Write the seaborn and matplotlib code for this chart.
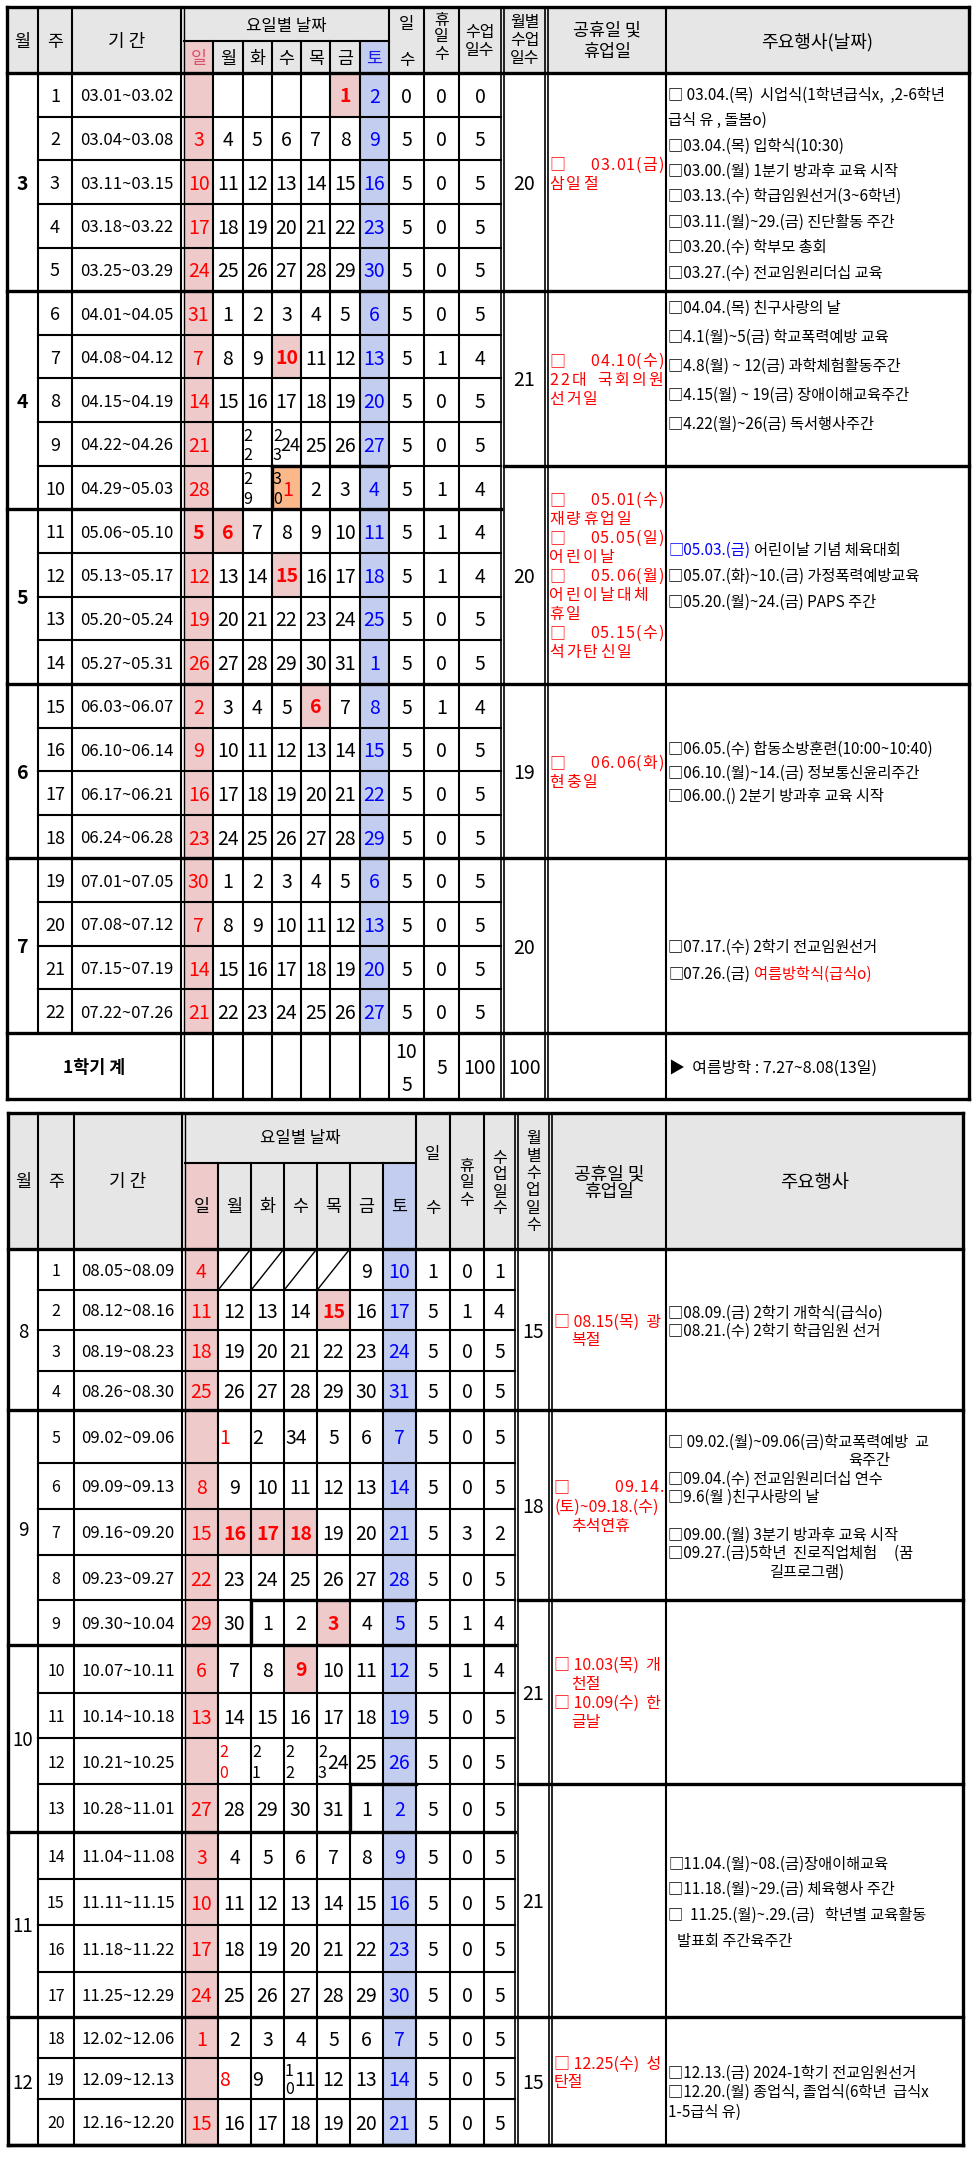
import matplotlib
matplotlib.use("Agg")
import matplotlib.pyplot as plt
from matplotlib.colors import ListedColormap
from matplotlib.font_manager import FontProperties
from matplotlib.patches import Rectangle
import numpy as np
import seaborn as sns

sns.set_theme(style="white")
FAM = ["Noto Sans CJK KR", "DejaVu Sans"]
plt.rcParams["font.family"] = FAM

# ====================== DATA ======================
weekdays = ["일", "월", "화", "수", "목", "금", "토"]

# ---------- semester 1 ----------
months1 = [3] * 5 + [4] * 5 + [5] * 4 + [6] * 4 + [7] * 4
weeks1 = list(range(1, 23))
periods1 = ["03.01~03.02", "03.04~03.08", "03.11~03.15", "03.18~03.22", "03.25~03.29",
            "04.01~04.05", "04.08~04.12", "04.15~04.19", "04.22~04.26", "04.29~05.03",
            "05.06~05.10", "05.13~05.17", "05.20~05.24", "05.27~05.31",
            "06.03~06.07", "06.10~06.14", "06.17~06.21", "06.24~06.28",
            "07.01~07.05", "07.08~07.12", "07.15~07.19", "07.22~07.26"]
dates1 = [
    ["", "", "", "", "", "1", "2"],
    ["3", "4", "5", "6", "7", "8", "9"],
    ["10", "11", "12", "13", "14", "15", "16"],
    ["17", "18", "19", "20", "21", "22", "23"],
    ["24", "25", "26", "27", "28", "29", "30"],
    ["31", "1", "2", "3", "4", "5", "6"],
    ["7", "8", "9", "10", "11", "12", "13"],
    ["14", "15", "16", "17", "18", "19", "20"],
    ["21", "", "2\n2", "2\n3|24", "25", "26", "27"],
    ["28", "", "2\n9", "3\n0|1", "2", "3", "4"],
    ["5", "6", "7", "8", "9", "10", "11"],
    ["12", "13", "14", "15", "16", "17", "18"],
    ["19", "20", "21", "22", "23", "24", "25"],
    ["26", "27", "28", "29", "30", "31", "1"],
    ["2", "3", "4", "5", "6", "7", "8"],
    ["9", "10", "11", "12", "13", "14", "15"],
    ["16", "17", "18", "19", "20", "21", "22"],
    ["23", "24", "25", "26", "27", "28", "29"],
    ["30", "1", "2", "3", "4", "5", "6"],
    ["7", "8", "9", "10", "11", "12", "13"],
    ["14", "15", "16", "17", "18", "19", "20"],
    ["21", "22", "23", "24", "25", "26", "27"],
]
holiday_cells1 = [(0, 5), (6, 3), (10, 0), (10, 1), (11, 3), (14, 4)]
orange_cells1 = [(9, 3)]
shifted_red1 = []
days1 = [0, 5, 5, 5, 5, 5, 5, 5, 5, 5, 5, 5, 5, 5, 5, 5, 5, 5, 5, 5, 5, 5]
off1 = [0, 0, 0, 0, 0, 0, 1, 0, 0, 1, 1, 1, 0, 0, 1, 0, 0, 0, 0, 0, 0, 0]
class1 = [0, 5, 5, 5, 5, 5, 4, 5, 5, 4, 4, 4, 5, 5, 4, 5, 5, 5, 5, 5, 5, 5]
rgroup1 = [0] * 5 + [1] * 4 + [2] * 5 + [3] * 4 + [4] * 4
monthly1 = [20, 21, 20, 19, 20]
total_label1 = "1학기 계"
total_days1 = ["10", "5"]
total_off1 = "5"
total_class1 = "100"
total_monthly1 = "100"
total_event1 = "▶  여름방학 : 7.27~8.08(13일)"

hol1 = [
    [("date", "03.01(금)"), ("track", "삼일절"), ("blank", "")],
    [("date", "04.10(수)"), ("justify", "22대 국회의원"), ("track", "선거일")],
    [("date", "05.01(수)"), ("track", "재량휴업일"), ("date", "05.05(일)"), ("track", "어린이날"),
     ("date", "05.06(월)"), ("track", "어린이날대체"), ("track", "휴일"),
     ("date", "05.15(수)"), ("track", "석가탄신일")],
    [("date", "06.06(화)"), ("track", "현충일")],
    [],
]

K, RED, BLUE = "#000000", "#ff0000", "#0000ff"
ev1 = [
    [(0, [("□ 03.04.(목)  시업식(1학년급식x,  ,2-6학년", K)]),
     (0, [("급식 유 , 돌봄o)", K)]),
     (0, [("□03.04.(목) 입학식(10:30)", K)]),
     (0, [("□03.00.(월) 1분기 방과후 교육 시작", K)]),
     (0, [("□03.13.(수) 학급임원선거(3~6학년)", K)]),
     (0, [("□03.11.(월)~29.(금) 진단활동 주간", K)]),
     (0, [("□03.20.(수) 학부모 총회", K)]),
     (0, [("□03.27.(수) 전교임원리더십 교육", K)])],
    [(0, [("□04.04.(목) 친구사랑의 날", K)]),
     (0, [("□4.1(월)~5(금) 학교폭력예방 교육", K)]),
     (0, [("□4.8(월) ~ 12(금) 과학체험활동주간", K)]),
     (0, [("□4.15(월) ~ 19(금) 장애이해교육주간", K)]),
     (0, [("□4.22(월)~26(금) 독서행사주간", K)]),
     (0, [])],
    [(0, [("□05.03.(금)", BLUE), (" 어린이날 기념 체육대회", K)]),
     (0, [("□05.07.(화)~10.(금) 가정폭력예방교육", K)]),
     (0, [("□05.20.(월)~24.(금) PAPS 주간", K)])],
    [(0, [("□06.05.(수) 합동소방훈련(10:00~10:40)", K)]),
     (0, [("□06.10.(월)~14.(금) 정보통신윤리주간", K)]),
     (0, [("□06.00.() 2분기 방과후 교육 시작", K)])],
    [(0, []),
     (0, [("□07.17.(수) 2학기 전교임원선거", K)]),
     (0, [("□07.26.(금)", K), (" 여름방학식(급식o)", RED)])],
]

# ---------- semester 2 ----------
months2 = [8] * 4 + [9] * 5 + [10] * 4 + [11] * 4 + [12] * 3
weeks2 = list(range(1, 21))
periods2 = ["08.05~08.09", "08.12~08.16", "08.19~08.23", "08.26~08.30",
            "09.02~09.06", "09.09~09.13", "09.16~09.20", "09.23~09.27", "09.30~10.04",
            "10.07~10.11", "10.14~10.18", "10.21~10.25", "10.28~11.01",
            "11.04~11.08", "11.11~11.15", "11.18~11.22", "11.25~12.29",
            "12.02~12.06", "12.09~12.13", "12.16~12.20"]
dates2 = [
    ["4", "/", "/", "/", "/", "9", "10"],
    ["11", "12", "13", "14", "15", "16", "17"],
    ["18", "19", "20", "21", "22", "23", "24"],
    ["25", "26", "27", "28", "29", "30", "31"],
    ["", "<1", "<2", "<34", "5", "6", "7"],
    ["8", "9", "10", "11", "12", "13", "14"],
    ["15", "16", "17", "18", "19", "20", "21"],
    ["22", "23", "24", "25", "26", "27", "28"],
    ["29", "30", "1", "2", "3", "4", "5"],
    ["6", "7", "8", "9", "10", "11", "12"],
    ["13", "14", "15", "16", "17", "18", "19"],
    ["", "2\n0", "2\n1", "2\n2", "2\n3|24", "25", "26"],
    ["27", "28", "29", "30", "31", "1", "2"],
    ["3", "4", "5", "6", "7", "8", "9"],
    ["10", "11", "12", "13", "14", "15", "16"],
    ["17", "18", "19", "20", "21", "22", "23"],
    ["24", "25", "26", "27", "28", "29", "30"],
    ["1", "2", "3", "4", "5", "6", "7"],
    ["", "<8", "<9", "1\n0|11", "12", "13", "14"],
    ["15", "16", "17", "18", "19", "20", "21"],
]
holiday_cells2 = [(1, 4), (6, 1), (6, 2), (6, 3), (8, 4), (9, 3)]
orange_cells2 = []
shifted_red2 = [(4, 1), (11, 1), (18, 1)]
days2 = [1, 5, 5, 5, 5, 5, 5, 5, 5, 5, 5, 5, 5, 5, 5, 5, 5, 5, 5, 5]
off2 = [0, 1, 0, 0, 0, 0, 3, 0, 1, 1, 0, 0, 0, 0, 0, 0, 0, 0, 0, 0]
class2 = [1, 4, 5, 5, 5, 5, 2, 5, 4, 4, 5, 5, 5, 5, 5, 5, 5, 5, 5, 5]
rgroup2 = [0] * 4 + [1] * 4 + [2] * 4 + [3] * 5 + [4] * 3
monthly2 = [15, 18, 21, 21, 15]

hol2 = [
    [("plain", "□ 08.15(목)  광"), ("indent", "복절")],
    [("date", "09.14."), ("plain", "(토)~09.18.(수)"), ("indent", "추석연휴")],
    [("plain", "□ 10.03(목)  개"), ("indent", "천절"), ("plain", "□ 10.09(수)  한"), ("indent", "글날")],
    [],
    [("plain", "□ 12.25(수)  성"), ("plain", "탄절"), ("blank", "")],
]
ev2 = [
    [(0, [("□08.09.(금) 2학기 개학식(급식o)", K)]),
     (0, [("□08.21.(수) 2학기 학급임원 선거", K)]),
     (0, [])],
    [(0, [("□ 09.02.(월)~09.06(금)학교폭력예방  교", K)]),
     (11.8, [("육주간", K)]),
     (0, [("□09.04.(수) 전교임원리더십 연수", K)]),
     (0, [("□9.6(월 )친구사랑의 날", K)]),
     (0, []),
     (0, [("□09.00.(월) 3분기 방과후 교육 시작", K)]),
     (0, [("□09.27.(금)5학년  진로직업체험     (꿈", K)]),
     (6.7, [("길프로그램)", K)])],
    [],
    [(0, [("□11.04.(월)~08.(금)장애이해교육", K)]),
     (0, [("□11.18.(월)~29.(금) 체육행사 주간", K)]),
     (0, [("□  11.25.(월)~.29.(금)   학년별 교육활동", K)]),
     (0.6, [("발표회 주간육주간", K)])],
    [(0, []),
     (0, [("□12.13.(금) 2024-1학기 전교임원선거", K)]),
     (0, [("□12.20.(월) 종업식, 졸업식(6학년  급식x", K)]),
     (0, [("1-5급식 유)", K)])],
]

# ====================== LAYOUT / STYLE ======================
PINK, SKY, ORANGE, GRAY = "#efcaca", "#c3cdef", "#fbb88a", "#e6e6e6"
LW, LWT, LWD = 1.5, 2.4, 1.0
W, H = 978, 2157
PX = 100 / 72.0

cfg1 = dict(xl=7, x_mw=38, x_wp=72, x_pd=181, xd0=184, xd1=389, x_do=424, x_oc=459,
            x_ce=501, x_m0=504, x_m1=545, x_h0=548, x_e0=666, xr=969,
            y_top=7, y_sub=41, y_head=73, row_h=[960 / 22] * 22, total_h=66,
            ev_sp=[25.4, 29, 26, 23.5, 27], hol_sp=19, hol_size=11.5,
            month_bold=True, week_size=13, month_size=14,
            extra=[("v", 3, 9), ("h", 9, 3, 7)])
cfg2 = dict(xl=8, x_mw=38, x_wp=74, x_pd=182, xd0=185, xd1=416, x_do=450, x_oc=484,
            x_ce=515, x_m0=518, x_m1=549, x_h0=552, x_e0=666, xr=963,
            y_top=1113, y_sub=1163, y_head=1249,
            row_h=[41, 40, 41, 39, 53, 46, 46, 45, 45, 48, 45, 46, 48, 47, 46, 47, 45, 41, 41, 46],
            total_h=0, ev_sp=[18, 18.6, 20, 25.7, 19.5], hol_sp=19, hol_size=11.5,
            month_bold=False, week_size=11.5, month_size=13.5,
            extra=[("v", 2, 8), ("h", 8, 2, 7), ("v", 5, 12), ("h", 12, 5, 7)])

fig = plt.figure(figsize=(W / 100, H / 100), dpi=100)
ax = fig.add_axes([0, 0, 1, 1])
ax.set_xlim(0, W)
ax.set_ylim(H, 0)
ax.axis("off")
ax.set_zorder(2)
ax.patch.set_alpha(0)
R = fig.canvas.get_renderer()


def sp_w(size):
    return 0.26 * size * PX


def tw(s, size, weight="normal"):
    if s.strip() == "":
        return len(s) * sp_w(size)
    fp = FontProperties(family=FAM, size=size, weight=weight)
    w, h, d = R.get_text_width_height_descent(s, fp, ismath=False)
    return w


def put(x, y, s, size=11, color=K, ha="center", weight="normal", va="center_baseline"):
    ax.text(x, y, s, fontsize=size, color=color, ha=ha, va=va, fontweight=weight,
            family=FAM, zorder=5)


def put_segments(x, y, segs, size):
    for s, c in segs:
        lead = len(s) - len(s.lstrip(" "))
        core = s.strip(" ")
        trail = len(s.lstrip(" ")) - len(core)
        x += lead * sp_w(size)
        if core:
            put(x, y, core, size, c, ha="left")
            x += tw(core, size)
        x += trail * sp_w(size)


def put_tracked(x0, y, s, size, color, track=2.0, justify=None, align="left"):
    ws = [sp_w(size) * 1.6 if ch == " " else tw(ch, size) for ch in s]
    n = len(s)
    if justify is not None and n > 1:
        track = (justify - sum(ws)) / (n - 1)
    total = sum(ws) + track * (n - 1)
    x = x0 - total if align == "right" else x0
    for ch, w in zip(s, ws):
        if ch != " ":
            put(x, y, ch, size, color, ha="left")
        x += w + track


def hline(x0, x1, y, lw=LW):
    ax.plot([x0, x1], [y, y], color=K, lw=lw, solid_capstyle="projecting", zorder=4)


def vline(x, y0, y1, lw=LW):
    ax.plot([x, x], [y0, y1], color=K, lw=lw, solid_capstyle="projecting", zorder=4)


def rect(x0, y0, x1, y1, color):
    ax.add_patch(Rectangle((x0, y0), x1 - x0, y1 - y0, facecolor=color, edgecolor="none", zorder=1))


def runs(seq):
    out, start = [], 0
    for i in range(1, len(seq) + 1):
        if i == len(seq) or seq[i] != seq[start]:
            out.append((seq[start], start, i))
            start = i
    return out


def color_codes(dates, hols, oranges):
    codes = np.zeros((len(dates), 7), dtype=int)
    codes[:, 0] = 1
    codes[:, 6] = 2
    for r, c in hols:
        codes[r, c] = 1
    for r, c in oranges:
        codes[r, c] = 3
    return codes


def draw_table(c, months, weeks, periods, dates, hols, oranges, shifted, days, off, cls,
               rgroup, monthly, holis, events, header, use_heatmap, total=None):
    ys = np.concatenate([[c["y_head"]], c["y_head"] + np.cumsum(c["row_h"])])
    n = len(weeks)
    y_end = ys[-1]
    y_bot = y_end + c["total_h"]
    xl, xr = c["xl"], c["xr"]
    xd = np.linspace(c["xd0"], c["xd1"], 8)

    # ---- backgrounds ----
    rect(xl, c["y_top"], xr, c["y_head"], GRAY)
    rect(xd[0], c["y_sub"], xd[1], c["y_head"], PINK)
    rect(xd[6], c["y_sub"], xd[7], c["y_head"], SKY)
    codes = color_codes(dates, hols, oranges)
    cmap = ListedColormap(["#ffffff", PINK, SKY, ORANGE])
    if use_heatmap:
        hax = fig.add_axes([xd[0] / W, 1 - y_end / H, (xd[7] - xd[0]) / W, (y_end - ys[0]) / H])
        sns.heatmap(codes, cmap=cmap, vmin=-0.5, vmax=3.5, cbar=False, ax=hax,
                    xticklabels=False, yticklabels=False, linewidths=0)
        hax.set_zorder(1)
        hax.axis("off")
    else:
        for r in range(n):
            for col in range(7):
                if codes[r, col]:
                    rect(xd[col], ys[r], xd[col + 1], ys[r + 1], cmap.colors[codes[r, col]])

    # ---- lines ----
    for y in (c["y_top"], c["y_head"], y_end, y_bot):
        hline(xl, xr, y, LWT)
    hline(xd[0], xd[7], c["y_sub"], LW)
    for i in range(1, n):
        y = ys[i]
        if months[i] != months[i - 1]:
            hline(xl, c["x_ce"], y, LWT)
        else:
            hline(c["x_mw"], c["x_ce"], y, LW)
        if rgroup[i] != rgroup[i - 1]:
            hline(c["x_m0"], xr, y, LWT)
    vline(xl, c["y_top"], y_bot, LWT)
    vline(xr, c["y_top"], y_bot, LWT)
    for x in (c["x_mw"], c["x_wp"]):
        vline(x, c["y_top"], y_end, LW)
    vline(c["x_pd"], c["y_top"], y_bot, LW)
    vline(xd[0], c["y_top"], y_bot, LWD)
    for x in xd[1:7]:
        vline(x, c["y_sub"], y_bot, LW)
    for x in (xd[7], c["x_do"], c["x_oc"]):
        vline(x, c["y_top"], y_bot, LW)
    for x in (c["x_ce"], c["x_m0"], c["x_m1"], c["x_h0"]):
        vline(x, c["y_top"], y_bot, LWD + 0.2)
    vline(c["x_e0"], c["y_top"], y_bot, LW)
    for e in c["extra"]:
        if e[0] == "v":
            vline(xd[e[1]], ys[e[2]], ys[e[2] + 1], LWT)
        else:
            hline(xd[e[2]], xd[e[3]], ys[e[1]], LWT)

    # ---- header text ----
    for item in header:
        put(*item[:2], item[2], size=item[3], color=item[4] if len(item) > 4 else K)

    # ---- body ----
    mx = (xl + c["x_mw"]) / 2
    for m, a, b in runs(months):
        put(mx, (ys[a] + ys[b]) / 2, str(m), c["month_size"], K,
            weight="bold" if c["month_bold"] else "normal")
    for r in range(n):
        yc = (ys[r] + ys[r + 1]) / 2
        hgt = ys[r + 1] - ys[r]
        put((c["x_mw"] + c["x_wp"]) / 2, yc, str(weeks[r]), c["week_size"])
        put((c["x_wp"] + c["x_pd"]) / 2, yc, periods[r], 12)
        for col in range(7):
            s = dates[r][col]
            if not s:
                continue
            x0, x1 = xd[col], xd[col + 1]
            is_hol = (r, col) in hols
            base = RED if col == 0 else BLUE if col == 6 else K
            if (r, col) in shifted or is_hol:
                base = RED
            wt = "bold" if is_hol else "normal"
            if s == "/":
                ax.plot([x0 + 1, x1 - 1], [ys[r + 1] - 1, ys[r] + 1], color=K, lw=1.0, zorder=4)
            elif s.startswith("<"):
                put(x0 + 1, yc, s[1:], 14, base, ha="left", weight=wt)
            elif "\n" in s:
                stack, _, rest = s.partition("|")
                a, b = stack.split("\n")
                put(x0 + 1, yc - 0.22 * hgt, a, 11.5, base, ha="left")
                put(x0 + 1, yc + 0.22 * hgt, b, 11.5, base, ha="left")
                if rest:
                    rc = RED if (r, col) in oranges else base
                    rs = 13 if (x1 - x0) < 31 else 14
                    if len(rest) == 1:
                        put((x0 + x1) / 2 + 1, yc, rest, 14, rc)
                    else:
                        put(x1 - 1, yc, rest, rs, rc, ha="right")
            else:
                put((x0 + x1) / 2, yc, s, 14, base, weight=wt)
        put((xd[7] + c["x_do"]) / 2, yc, str(days[r]), 14)
        put((c["x_do"] + c["x_oc"]) / 2, yc, str(off[r]), 14)
        put((c["x_oc"] + c["x_ce"]) / 2, yc, str(cls[r]), 14)

    hs = c["hol_size"]
    for g, a, b in runs(rgroup):
        yc = (ys[a] + ys[b]) / 2
        put((c["x_m0"] + c["x_m1"]) / 2, yc, str(monthly[g]), 14)
        lines = holis[g]
        for i, (kind, txt) in enumerate(lines):
            y = yc + (i - (len(lines) - 1) / 2) * c["hol_sp"]
            x0, x1 = c["x_h0"], c["x_e0"]
            if kind == "date":
                put(x0 + 1, y, "□", hs, RED, ha="left")
                put_tracked(x1 - 2, y, txt, hs, RED, track=1.2, align="right")
            elif kind == "track":
                put_tracked(x0 + 1, y, txt, hs, RED, track=2.2)
            elif kind == "justify":
                put_tracked(x0 + 1, y, txt, hs, RED, justify=x1 - x0 - 4)
            elif kind == "plain":
                put(x0 + 2, y, txt, hs, RED, ha="left")
            elif kind == "indent":
                put(x0 + 19, y, txt, hs, RED, ha="left")
        evl = events[g]
        for i, (ind, segs) in enumerate(evl):
            y = yc + (i - (len(evl) - 1) / 2) * c["ev_sp"][g]
            put_segments(c["x_e0"] + 2 + ind * 11 * PX, y, segs, 11)

    if total is not None:
        yc = (y_end + y_bot) / 2
        put((xl + c["x_pd"]) / 2, yc, total["label"], 12.5, weight="bold")
        put((xd[7] + c["x_do"]) / 2, yc - 16, total["days"][0], 14)
        put((xd[7] + c["x_do"]) / 2, yc + 17, total["days"][1], 14)
        put((c["x_do"] + c["x_oc"]) / 2, yc, total["off"], 14)
        put((c["x_oc"] + c["x_ce"]) / 2, yc, total["cls"], 14)
        put((c["x_m0"] + c["x_m1"]) / 2, yc, total["monthly"], 14)
        put_segments(c["x_e0"] + 3, yc, [(total["event"], K)], 11.5)


# header layouts
xd1 = np.linspace(cfg1["xd0"], cfg1["xd1"], 8)
header1 = [(22.5, 40, "월", 12.5), (55, 40, "주", 12.5), (127, 40, "기 간", 13),
           ((cfg1["xd0"] + cfg1["xd1"]) / 2, 24, "요일별 날짜", 12)]
for i, d in enumerate(weekdays):
    colr = "#d9506a" if i == 0 else "#1a1ae0" if i == 6 else K
    header1.append(((xd1[i] + xd1[i + 1]) / 2, 57, d, 12.5, colr))
header1 += [(406.5, 22, "일", 12), (406.5, 58, "수", 12),
            (441.5, 18, "휴", 11.5), (441.5, 35, "일", 11.5), (441.5, 53, "수", 11.5),
            (480, 30, "수업", 11.5), (480, 48, "일수", 11.5),
            (524.5, 21, "월별", 11.5), (524.5, 38, "수업", 11.5), (524.5, 56, "일수", 11.5),
            (607, 29, "공휴일 및", 12.5), (607, 50, "휴업일", 12.5),
            (817, 40, "주요행사(날짜)", 13)]

xd2 = np.linspace(cfg2["xd0"], cfg2["xd1"], 8)
header2 = [(23, 1180, "월", 12.5), (56, 1180, "주", 12.5), (128, 1180, "기 간", 13),
           ((cfg2["xd0"] + cfg2["xd1"]) / 2, 1137, "요일별 날짜", 12)]
for i, d in enumerate(weekdays):
    header2.append(((xd2[i] + xd2[i + 1]) / 2, 1205, d, 12.5))
header2 += [(433, 1153, "일", 12), (433, 1207, "수", 12)]
for j, ch in enumerate("휴일수"):
    header2.append((467, 1164 + j * 17, ch, 11.5))
for j, ch in enumerate("수업일수"):
    header2.append((500, 1156 + j * 17, ch, 11.5))
for j, ch in enumerate("월별수업일수"):
    header2.append((533.5, 1137 + j * 17.3, ch, 11.5))
header2 += [(609, 1172, "공휴일 및", 13), (609, 1190, "휴업일", 13),
            (815, 1180, "주요행사", 13.5)]

total1 = dict(label=total_label1, days=total_days1, off=total_off1, cls=total_class1,
              monthly=total_monthly1, event=total_event1)

draw_table(cfg1, months1, weeks1, periods1, dates1, holiday_cells1, orange_cells1, shifted_red1,
           days1, off1, class1, rgroup1, monthly1, hol1, ev1, header1, True, total1)
draw_table(cfg2, months2, weeks2, periods2, dates2, holiday_cells2, orange_cells2, shifted_red2,
           days2, off2, class2, rgroup2, monthly2, hol2, ev2, header2, False)

fig.savefig("out.png", dpi=100, facecolor="white")
